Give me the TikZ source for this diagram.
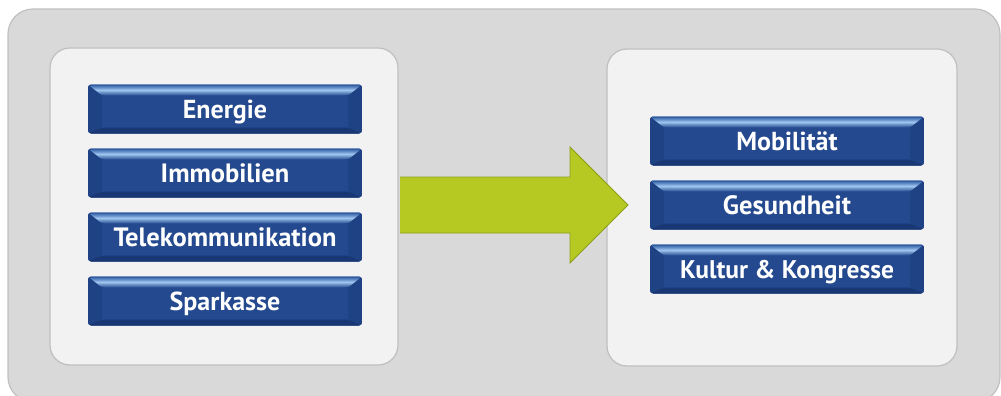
\documentclass[tikz,border=0pt]{standalone}
\usepackage{fontspec}
\setmainfont{PT Sans}
\usetikzlibrary{shadings}
\definecolor{outerfill}{RGB}{217,217,217}
\definecolor{outerline}{RGB}{192,192,192}
\definecolor{panelfill}{RGB}{242,242,242}
\definecolor{panelline}{RGB}{191,191,191}
\definecolor{btnblue}{RGB}{36,73,142}
\definecolor{btnside}{RGB}{31,66,132}
\definecolor{btnbottom}{RGB}{25,55,115}
\definecolor{btnlight}{RGB}{160,198,240}
\definecolor{btnedge}{RGB}{40,85,160}
\definecolor{arrowfill}{RGB}{181,201,34}
\definecolor{arrowline}{RGB}{140,158,25}
\tikzset{
  outerbox/.style={fill=outerfill,draw=outerline,line width=1.2pt,rounded corners=25pt},
  panel/.style={fill=panelfill,draw=panelline,line width=1.2pt,rounded corners=20pt},
  btn/.style={rounded corners=3pt,minimum width=274pt,minimum height=49pt,inner sep=0pt,
    text height=18pt,text depth=0pt,
    text=white,font=\bfseries\fontsize{26}{30}\selectfont,
    path picture={
      \coordinate (nw) at (path picture bounding box.north west);
      \coordinate (se) at (path picture bounding box.south east);
      \fill[btnblue] (nw) rectangle (se);
      \fill[btnside] (nw) -- ([xshift=14pt,yshift=-11pt]nw) -- ([xshift=14pt,yshift=6pt]nw|-se) -- (nw|-se) -- cycle;
      \fill[btnside] (nw-|se) -- ([xshift=-14pt,yshift=-11pt]nw-|se) -- ([xshift=-14pt,yshift=6pt]se) -- (se) -- cycle;
      \fill[btnbottom] (nw|-se) -- ([xshift=14pt,yshift=6pt]nw|-se) -- ([xshift=-14pt,yshift=6pt]se) -- (se) -- cycle;
      \shade[top color=btnedge,bottom color=btnblue,middle color=btnlight]
        (nw) -- (nw-|se) -- ([xshift=-14pt,yshift=-11pt]nw-|se) -- ([xshift=14pt,yshift=-11pt]nw) -- cycle;
    }},
  arrowbody/.style={fill=arrowfill},
  arrowedge/.style={draw=arrowline,line width=0.8pt,line join=miter}
}
\begin{document}
\begin{tikzpicture}[x=1pt,y=-1pt]
\useasboundingbox (0,0) rectangle (1001,396);
\draw[outerbox] (8,9) rectangle (1000,402);
\draw[panel] (50,48) rectangle (398,365);
\draw[panel] (607,49) rectangle (957,366);
% arrow
\coordinate (a1) at (400,177);
\coordinate (a2) at (570,177);
\coordinate (a3) at (570,147);
\coordinate (tip) at (628,205);
\coordinate (a5) at (570,263);
\coordinate (a6) at (570,233);
\coordinate (a7) at (400,233);
\fill[arrowbody] (a1) -- (a2) -- (a3) -- (tip) -- (a5) -- (a6) -- (a7) -- cycle;
\draw[arrowedge] (a1) -- (a2) -- (a3) -- (tip) -- (a5) -- (a6) -- (a7);
% left buttons
\node[btn] (energie) at (225,109) {Energie};
\node[btn,font=\bfseries\fontsize{26.5}{30}\selectfont] (immo) at (225,173) {Immobilien};
\node[btn,font=\bfseries\fontsize{26.5}{30}\selectfont] (tele) at (225,237) {Telekommunikation};
\node[btn] (spark) at (225,301) {Sparkasse};
% right buttons
\node[btn] (mob) at (787,141) {Mobilität};
\node[btn,font=\bfseries\fontsize{26.5}{30}\selectfont] (ges) at (787,205) {Gesundheit};
\node[btn,font=\bfseries\fontsize{25.5}{30}\selectfont] (kult) at (787,269) {Kultur \& Kongresse};
\end{tikzpicture}
\end{document}
